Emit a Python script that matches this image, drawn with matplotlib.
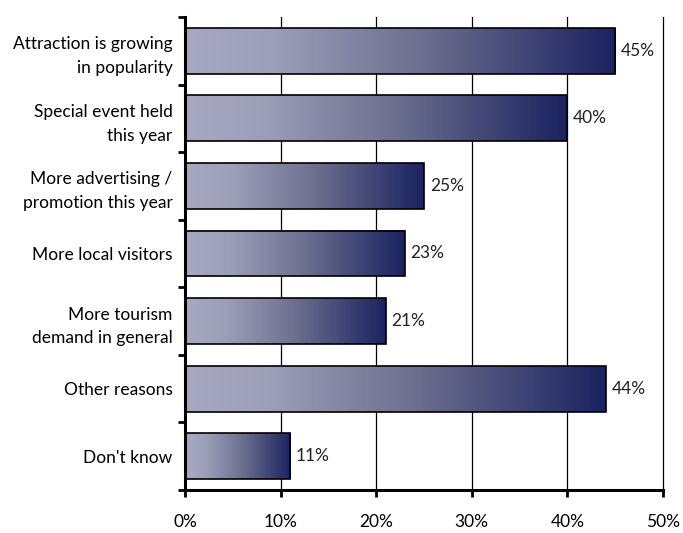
import numpy as np
import matplotlib
matplotlib.use('Agg')
import matplotlib.pyplot as plt
from matplotlib.colors import LinearSegmentedColormap

# data
categories = ['Attraction is growing\nin popularity',
              'Special event held\nthis year',
              'More advertising /\npromotion this year',
              'More local visitors',
              'More tourism\ndemand in general',
              'Other reasons',
              "Don't know"]
values = [45, 40, 25, 23, 21, 44, 11]
xticks = [0, 10, 20, 30, 40, 50]

plt.rcParams['font.family'] = ['Lato', 'DejaVu Sans']
plt.rcParams['font.size'] = 12.5

fig = plt.figure(figsize=(6.83, 5.33), dpi=100)
ax = fig.add_axes([0.2709, 0.0807, 0.6998, 0.8874])

# light grey-blue to navy gradient across each bar
cmap = LinearSegmentedColormap.from_list('bar', [(0.0, '#a6a9c0'), (0.2, '#9c9fb8'),
                                                 (0.55, '#6c6f8e'), (1.0, '#1b2360')])
grad = np.linspace(0, 1, 256).reshape(1, -1)
bar_h = 0.68

for i, v in enumerate(values):
    ax.imshow(grad, cmap=cmap, aspect='auto', extent=(0, v, i + bar_h / 2, i - bar_h / 2),
              zorder=2, interpolation='bilinear')
    ax.barh(i, v, height=bar_h, fill=False, edgecolor='black', linewidth=1.2, zorder=3)
    ax.text(v + 0.6, i, f'{v}%', va='center', ha='left', fontsize=12.5, color='#222222')

ax.set_xlim(0, 50)
ax.set_ylim(len(values) - 0.5, -0.5)

ax.set_xticks(xticks)
ax.set_xticklabels([f'{t}%' for t in xticks])
ax.xaxis.grid(True, color='black', linewidth=0.9, zorder=0)
ax.set_axisbelow(True)
for gl in ax.get_xgridlines():
    gl.set_clip_on(False)  # keep the 50% line visible at the edge

# tick marks between categories, labels centred on bars
ax.set_yticks(np.arange(len(values) + 1) - 0.5)
ax.set_yticklabels([])
ax.set_yticks(np.arange(len(values)), minor=True)
ax.set_yticklabels(categories, minor=True, ha='right', multialignment='right', linespacing=1.6)
ax.tick_params(axis='y', which='minor', length=0, pad=9)
ax.tick_params(axis='y', which='major', length=5, width=2, direction='out')
ax.tick_params(axis='x', length=5, width=2, direction='out', pad=12)

for s in ['top', 'right']:
    ax.spines[s].set_visible(False)
for s in ['left', 'bottom']:
    ax.spines[s].set_linewidth(2.2)

fig.savefig('out.png', dpi=100)
